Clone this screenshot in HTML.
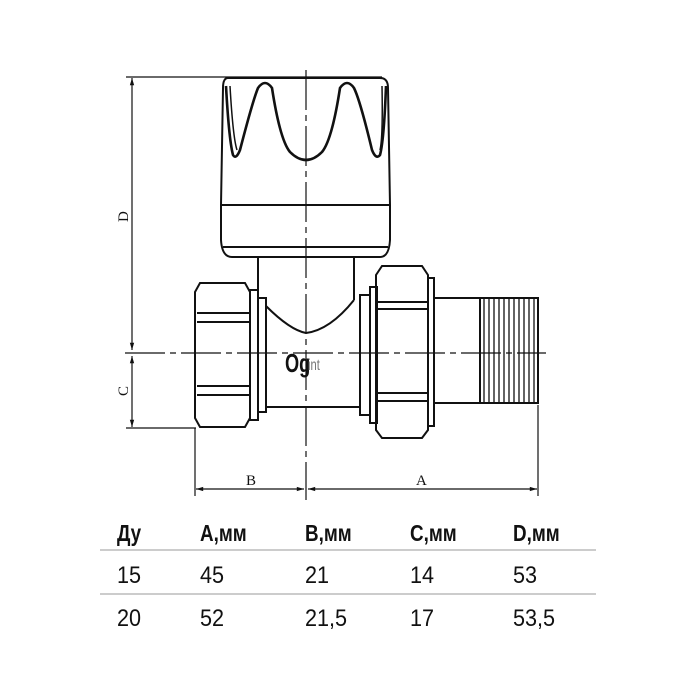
<!DOCTYPE html>
<html><head><meta charset="utf-8"><style>
body{margin:0;background:#fff;width:700px;height:700px;overflow:hidden}
svg{display:block}
.t{font-family:"Liberation Sans",sans-serif;fill:#111}
</style></head><body>
<svg width="700" height="700" viewBox="0 0 700 700" xmlns="http://www.w3.org/2000/svg">
<defs>
<marker id="ar" viewBox="0 0 10 10" refX="10" refY="5" markerWidth="8" markerHeight="6" orient="auto-start-reverse"><path d="M0,2 L10,5 L0,8 z" fill="#111"/></marker>
</defs>
<g stroke="#111" fill="none" stroke-width="1.2">
<line x1="126" y1="77" x2="382" y2="77"/>
<line x1="132" y1="78" x2="132" y2="350" marker-start="url(#ar)" marker-end="url(#ar)"/>
<line x1="132" y1="356" x2="132" y2="427" marker-start="url(#ar)" marker-end="url(#ar)"/>
<line x1="126" y1="428" x2="196" y2="428"/>
<line x1="195" y1="428" x2="195" y2="496"/>
<line x1="538" y1="405" x2="538" y2="496"/>
<line x1="196" y1="489" x2="304" y2="489" marker-start="url(#ar)" marker-end="url(#ar)"/>
<line x1="308" y1="489" x2="537" y2="489" marker-start="url(#ar)" marker-end="url(#ar)"/>
<line x1="125" y1="353" x2="546" y2="353" stroke-dasharray="40,5,6,5"/>
<line x1="306" y1="70" x2="306" y2="500" stroke-dasharray="40,5,6,5"/>
<g stroke-width="2">
<path d="M228,78 L380,78 Q388,78 388,88 L390,205 L390,240 Q389,257 380,257 L232,257 Q222,257 221,240 L221,205 L223,88 Q223,78 228,78 Z"/>
<line x1="221" y1="205" x2="390" y2="205"/>
<line x1="223" y1="247" x2="388" y2="247"/>
<path d="M226,86 Q229,140 233,155 Q236,160 240,150 Q253,100 258,88 Q265,78 272,88 Q280,140 290,152 Q306,168 322,152 Q332,140 340,88 Q347,78 354,88 Q360,100 372,150 Q376,160 380,155 Q384,140 386,86" stroke-width="2.6"/>
<path d="M230,86 Q233,138 237,150 M380,150 Q383,138 382,86" stroke-width="1.5"/>
<path d="M258,258 L258,300 M354,258 L354,300"/>
<path d="M200,283 L245,283 L250,292 L250,418 L245,427 L200,427 L195,418 L195,292 Z"/>
<line x1="197" y1="313" x2="249" y2="313"/><line x1="197" y1="322" x2="249" y2="322"/>
<line x1="197" y1="386" x2="249" y2="386"/><line x1="197" y1="395" x2="249" y2="395"/>
<rect x="250" y="290" width="8" height="130"/>
<rect x="258" y="298" width="8" height="114"/>
<path d="M266,306 Q290,330 306,333 Q330,330 354,300"/>
<line x1="266" y1="407" x2="360" y2="407"/>
<rect x="360" y="295" width="10" height="120"/>
<rect x="370" y="287" width="7" height="136"/>
<path d="M382,266 L422,266 L428,275 L428,430 L422,438 L382,438 L376,430 L376,275 Z"/>
<line x1="378" y1="302" x2="427" y2="302"/><line x1="378" y1="309" x2="427" y2="309"/>
<line x1="378" y1="393" x2="427" y2="393"/><line x1="378" y1="401" x2="427" y2="401"/>
<rect x="428" y="278" width="6" height="148"/>
<rect x="434" y="298" width="46" height="105"/>
<rect x="480" y="298" width="58" height="105"/>
</g>
<g stroke-width="1.3">
<path d="M484,298 L484,403 M489,298 L489,403 M494,298 L494,403 M499,298 L499,403 M504,298 L504,403 M509,298 L509,403 M514,298 L514,403 M519,298 L519,403 M524,298 L524,403 M529,298 L529,403 M534,298 L534,403"/>
</g>
</g>
<text transform="translate(285,372) scale(0.7,1)" font-family="Liberation Sans,sans-serif" font-size="26" font-weight="bold" fill="#111">Og</text>
<text transform="translate(308,370) scale(0.7,1)" font-family="Liberation Sans,sans-serif" font-size="16" fill="#777">int</text>
<g font-family="Liberation Serif,serif" font-size="15" fill="#111">
<text x="246" y="485">B</text>
<text x="416" y="485">A</text>
<text transform="translate(128,222) rotate(-90)">D</text>
<text transform="translate(128,396) rotate(-90)">C</text>
</g>
<g stroke="#999" stroke-width="1"><line x1="100" y1="550" x2="596" y2="550"/><line x1="100" y1="594" x2="596" y2="594"/></g>
<g class="t" font-size="24">
<g font-weight="bold" font-size="23">
<text transform="translate(117,541) scale(0.82,1)">Ду</text>
<text transform="translate(200,541) scale(0.82,1)">А,мм</text>
<text transform="translate(305,541) scale(0.82,1)">В,мм</text>
<text transform="translate(410,541) scale(0.82,1)">С,мм</text>
<text transform="translate(513,541) scale(0.82,1)">D,мм</text>
</g>
<g transform="translate(0,583)">
<text transform="translate(117,0) scale(0.9,1)">15</text><text transform="translate(200,0) scale(0.9,1)">45</text><text transform="translate(305,0) scale(0.9,1)">21</text><text transform="translate(410,0) scale(0.9,1)">14</text><text transform="translate(513,0) scale(0.9,1)">53</text>
</g>
<g transform="translate(0,626)">
<text transform="translate(117,0) scale(0.9,1)">20</text><text transform="translate(200,0) scale(0.9,1)">52</text><text transform="translate(305,0) scale(0.9,1)">21,5</text><text transform="translate(410,0) scale(0.9,1)">17</text><text transform="translate(513,0) scale(0.9,1)">53,5</text>
</g>
</g>
</svg>
</body></html>
